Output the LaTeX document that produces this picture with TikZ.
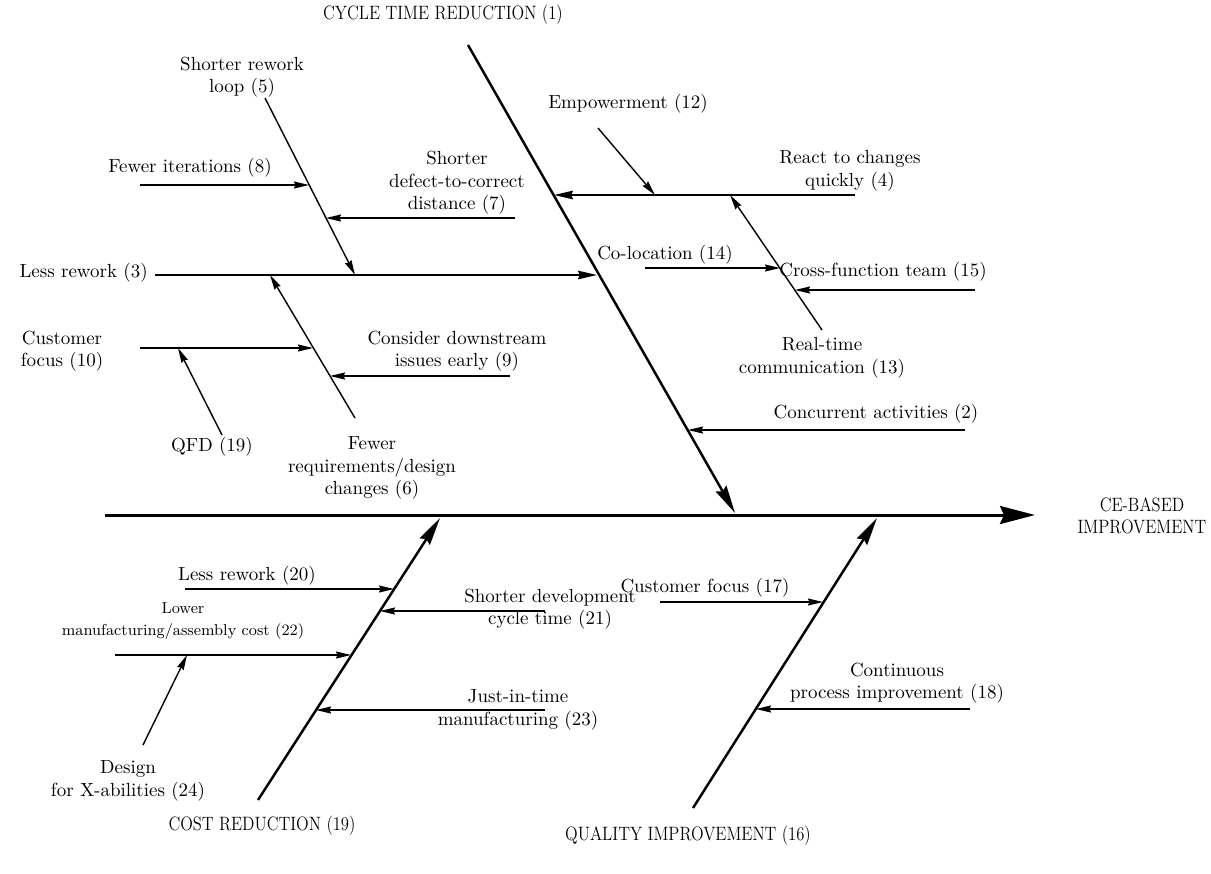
\documentclass[tikz,border=0pt]{standalone}
\usetikzlibrary{arrows.meta}
\newcommand{\capsline}[1]{\scalebox{0.86}[1]{#1}}
\begin{document}
\begin{tikzpicture}[x=0.02cm,y=-0.02cm,
  lbl/.style={font=\fontsize{10.8}{12.8}\selectfont, align=center, inner sep=0pt},
  small/.style={font=\fontsize{9}{12.8}\selectfont, align=center, inner sep=0pt},
  head/.style={font=\fontsize{11}{12.5}\selectfont, align=center, inner sep=0pt},
  spine/.style={line width=1.7pt, -{Stealth[length=0.7cm,width=0.36cm,inset=0.08cm]}},
  bone/.style={line width=1.4pt, -{Stealth[length=0.56cm,width=0.24cm,inset=0.06cm]}},
  branch/.style={line width=1.1pt, -{Stealth[length=0.38cm,width=0.17cm,inset=0.04cm]}},
  twig/.style={line width=0.8pt, -{Stealth[length=0.3cm,width=0.14cm,inset=0.03cm]}},
]
\useasboundingbox[fill=white] (0,0) rectangle (1211,873);

% ---- main spine and effect
\coordinate (sp0) at (105,515);
\coordinate (sp1) at (1035,515);
\draw[spine] (sp0) -- (sp1);
\node[head] (ce) at (1142,516) {\capsline{CE-BASED}\\\capsline{IMPROVEMENT}};

% ---- major bones
\coordinate (b1s) at (468,45);   \coordinate (b1e) at (735,513);
\coordinate (bcs) at (258,800);  \coordinate (bce) at (440,518);
\coordinate (bqs) at (693,808);  \coordinate (bqe) at (877,518);
\draw[bone] (b1s) -- (b1e);
\draw[bone] (bcs) -- (bce);
\draw[bone] (bqs) -- (bqe);
\node[head] (h1)  at (443,15)  {\capsline{CYCLE TIME REDUCTION (1)}};
\node[head] (h19) at (262,826) {\capsline{COST REDUCTION (19)}};
\node[head] (h16) at (688,836) {\capsline{QUALITY IMPROVEMENT (16)}};

% ---- cycle time: left side
\node[lbl, anchor=east] (t3) at (148,273) {Less rework (3)};
\coordinate (c3s) at (155,275);  \coordinate (c3e) at (597,275);
\draw[branch] (c3s) -- (c3e);

\node[lbl] (t5) at (242,77) {Shorter rework\\loop (5)};
\coordinate (c5s) at (265,98);   \coordinate (c5e) at (355,275);
\draw[twig] (c5s) -- (c5e);

\node[lbl] (t8) at (190,168) {Fewer iterations (8)};
\coordinate (c8s) at (140,185);  \coordinate (c8e) at (309,185);
\draw[twig] (c8s) -- (c8e);

\node[lbl] (t7) at (457,183) {Shorter\\defect-to-correct\\distance (7)};
\coordinate (c7s) at (515,218);  \coordinate (c7e) at (326,218);
\draw[twig] (c7s) -- (c7e);

\node[lbl] (t6) at (372,468) {Fewer\\requirements/design\\changes (6)};
\coordinate (c6s) at (355,418);  \coordinate (c6e) at (270,275);
\draw[twig] (c6s) -- (c6e);

\node[lbl] (t10) at (62,351) {Customer\\focus (10)};
\coordinate (c10s) at (140,348); \coordinate (c10e) at (313,348);
\draw[twig] (c10s) -- (c10e);

\node[lbl] (t9) at (457,351) {Consider downstream\\issues early (9)};
\coordinate (c9s) at (510,376);  \coordinate (c9e) at (330,376);
\draw[twig] (c9s) -- (c9e);

\node[lbl] (tq) at (212,447) {QFD (19)};
\coordinate (cqs) at (222,435);  \coordinate (cqe) at (178,348);
\draw[twig] (cqs) -- (cqe);

% ---- cycle time: right side
\node[lbl] (t12) at (628,104) {Empowerment (12)};
\coordinate (c12s) at (598,128); \coordinate (c12e) at (655,195);
\draw[twig] (c12s) -- (c12e);

\node[lbl] (t4) at (850,171) {React to changes\\quickly (4)};
\coordinate (c4s) at (855,195);  \coordinate (c4e) at (554,195);
\draw[branch] (c4s) -- (c4e);

\node[lbl] (t13) at (822,358) {Real-time\\communication (13)};
\coordinate (c13s) at (822,330); \coordinate (c13e) at (730,195);
\draw[twig] (c13s) -- (c13e);

\node[lbl] (t14) at (665,255) {Co-location (14)};
\coordinate (c14s) at (645,268); \coordinate (c14e) at (780,268);
\draw[twig] (c14s) -- (c14e);

\node[lbl] (t15) at (883,272) {Cross-function team (15)};
\coordinate (c15s) at (975,290); \coordinate (c15e) at (795,290);
\draw[twig] (c15s) -- (c15e);

\node[lbl] (t2) at (876,414) {Concurrent activities (2)};
\coordinate (c2s) at (965,430);  \coordinate (c2e) at (688,430);
\draw[twig] (c2s) -- (c2e);

% ---- cost reduction
\node[lbl] (t20) at (247,576) {Less rework (20)};
\coordinate (c20s) at (185,589); \coordinate (c20e) at (394,589);
\draw[twig] (c20s) -- (c20e);

\node[lbl] (t21) at (550,609) {Shorter development\\cycle time (21)};
\coordinate (c21s) at (545,611); \coordinate (c21e) at (380,611);
\draw[twig] (c21s) -- (c21e);

\node[small] (t22) at (183,621) {Lower\\manufacturing/assembly cost (22)};
\coordinate (c22s) at (115,655); \coordinate (c22e) at (351,655);
\draw[twig] (c22s) -- (c22e);

\node[lbl] (t24) at (128,781) {Design\\for X-abilities (24)};
\coordinate (c24s) at (143,745); \coordinate (c24e) at (187,655);
\draw[twig] (c24s) -- (c24e);

\node[lbl] (t23) at (518,710) {Just-in-time\\manufacturing (23)};
\coordinate (c23s) at (545,710); \coordinate (c23e) at (316,710);
\draw[twig] (c23s) -- (c23e);

% ---- quality improvement
\node[lbl] (t17) at (705,588) {Customer focus (17)};
\coordinate (c17s) at (660,602); \coordinate (c17e) at (823,602);
\draw[twig] (c17s) -- (c17e);

\node[lbl] (t18) at (897,683) {Continuous\\process improvement (18)};
\coordinate (c18s) at (970,709); \coordinate (c18e) at (756,709);
\draw[twig] (c18s) -- (c18e);
\end{tikzpicture}
\end{document}
